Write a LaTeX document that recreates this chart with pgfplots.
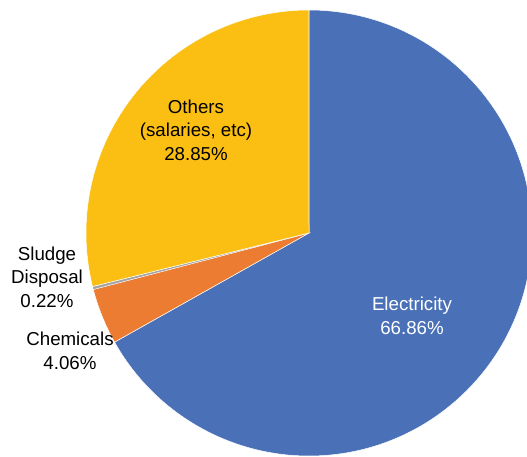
\documentclass[border=0pt]{standalone}
\usepackage{pgfplots}
\pgfplotsset{compat=1.18}
\usepackage{pgfplotstable}
\usepackage{fontspec}
\setmainfont{Liberation Sans}
\definecolor{elec}{HTML}{4A71B8}
\definecolor{chem}{HTML}{EC7C31}
\definecolor{sludge}{HTML}{A5A5A5}
\definecolor{others}{HTML}{FBBF14}

\pgfplotstableread[col sep=comma]{
label,value
Electricity,66.86
Chemicals,4.06
Sludge Disposal,0.22
Others,28.85
}\piedata

\pgfplotstablegetelem{0}{value}\of\piedata \let\vA\pgfplotsretval
\pgfplotstablegetelem{1}{value}\of\piedata \let\vB\pgfplotsretval
\pgfplotstablegetelem{2}{value}\of\piedata \let\vC\pgfplotsretval
\pgfplotstablegetelem{3}{value}\of\piedata \let\vD\pgfplotsretval
\pgfmathsetmacro\aA{90}
\pgfmathsetmacro\aB{\aA-3.6*\vA}
\pgfmathsetmacro\aC{\aB-3.6*\vB}
\pgfmathsetmacro\aD{\aC-3.6*\vC}
\pgfmathsetmacro\aE{\aD-3.6*\vD}

\begin{document}
\begin{tikzpicture}
\begin{axis}[
  scale only axis, width=527pt, height=457pt,
  xmin=0, xmax=527, ymin=0, ymax=457,
  hide axis, clip=true,
]
\path (axis cs:0,0) rectangle (axis cs:527,457);
\def\cx{309}\def\cy{224}\def\R{223pt}
\fill[elec, draw=white, line width=0.5pt] (axis cs:\cx,\cy) -- ++(\aA:\R) arc[start angle=\aA, end angle=\aB, radius=\R] -- cycle;
\fill[chem, draw=white, line width=0.5pt] (axis cs:\cx,\cy) -- ++(\aB:\R) arc[start angle=\aB, end angle=\aC, radius=\R] -- cycle;
\fill[sludge, draw=white, line width=0.3pt] (axis cs:\cx,\cy) -- ++(\aC:\R) arc[start angle=\aC, end angle=\aD, radius=\R] -- cycle;
\fill[others, draw=white, line width=0.5pt] (axis cs:\cx,\cy) -- ++(\aD:\R) arc[start angle=\aD, end angle=\aE, radius=\R] -- cycle;
\node[align=center, font=\fontsize{18.7}{23.5}\selectfont, text=black] at (axis cs:196,327) {Others\\(salaries, etc)\\28.85\%};
\node[align=center, font=\fontsize{18.7}{23.5}\selectfont, text=white] at (axis cs:412,141) {Electricity\\66.86\%};
\node[align=center, font=\fontsize{18.7}{23.5}\selectfont, text=black] at (axis cs:47,180) {Sludge\\Disposal\\0.22\%};
\node[align=center, font=\fontsize{18.7}{23.5}\selectfont, text=black] at (axis cs:70,106) {Chemicals\\4.06\%};
\end{axis}
\end{tikzpicture}
\end{document}
